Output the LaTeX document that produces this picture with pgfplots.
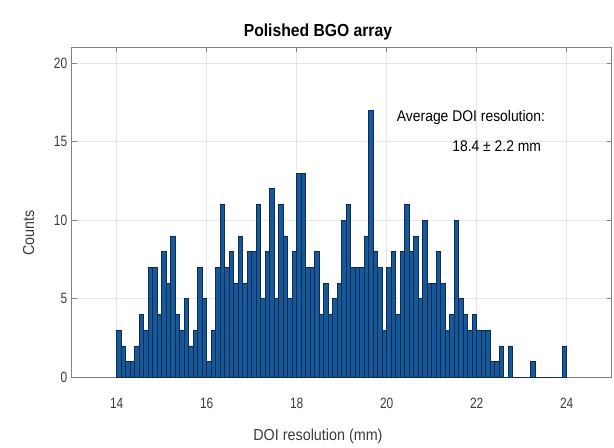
\documentclass[border=0pt]{standalone}
\usepackage{fontspec}
\setmainfont{Liberation Sans}[FakeStretch=0.9]
\newfontfamily\tickfont{Liberation Sans}[FakeStretch=0.8]
\usepackage{pgfplots}
\usepackage{pgfplotstable}
\pgfplotsset{compat=1.18}

\definecolor{barfill}{RGB}{22,88,152}
\definecolor{baredge}{RGB}{12,44,86}
\definecolor{gridgray}{RGB}{230,230,230}
\definecolor{boxgray}{RGB}{130,130,130}
\definecolor{textgray}{RGB}{60,60,60}

% DOI resolution histogram: bin centre (mm), counts (bin width 0.1 mm)
\pgfplotstableread{
x y
14.05 3
14.15 2
14.25 1
14.35 1
14.45 2
14.55 4
14.65 3
14.75 7
14.85 7
14.95 4
15.05 8
15.15 6
15.25 9
15.35 4
15.45 3
15.55 5
15.65 2
15.75 3
15.85 7
15.95 5
16.05 1
16.15 3
16.25 7
16.35 11
16.45 7
16.55 8
16.65 6
16.75 9
16.85 6
16.95 8
17.05 8
17.15 11
17.25 5
17.35 8
17.45 12
17.55 5
17.65 11
17.75 9
17.85 5
17.95 8
18.05 13
18.15 13
18.25 7
18.35 7
18.45 8
18.55 4
18.65 6
18.75 4
18.85 5
18.95 6
19.05 10
19.15 11
19.25 7
19.35 7
19.45 7
19.55 9
19.65 17
19.75 8
19.85 7
19.95 3
20.05 7
20.15 8
20.25 4
20.35 8
20.45 11
20.55 8
20.65 9
20.75 5
20.85 10
20.95 6
21.05 6
21.15 8
21.25 6
21.35 3
21.45 4
21.55 10
21.65 5
21.75 4
21.85 3
21.95 4
22.05 3
22.15 3
22.25 3
22.35 1
22.45 1
22.55 2
22.65 0
22.75 2
22.85 0
22.95 0
23.05 0
23.15 0
23.25 1
23.35 0
23.45 0
23.55 0
23.65 0
23.75 0
23.85 0
23.95 2
}\doidata

\begin{document}
\begin{tikzpicture}
\begin{axis}[
  scale only axis,
  width=540bp, height=330bp,
  xmin=13, xmax=25, ymin=0, ymax=21,
  xtick={14,16,...,24}, ytick={0,5,...,20},
  grid=major,
  major grid style={gridgray, line width=0.6bp},
  axis line style={boxgray, line width=0.6bp},
  tick style={boxgray, line width=0.6bp},
  tick align=inside, major tick length=5bp,
  /pgf/number format/assume math mode=true,
  ticklabel style={font=\tickfont\fontsize{15}{15}\selectfont, text=textgray},
  xticklabel style={yshift=-17bp},
  yticklabel style={xshift=-1bp},
  xlabel={DOI resolution (mm)},
  ylabel={Counts},
  title={Polished BGO array},
  every axis x label/.style={at={(rel axis cs:0.456,0)}, yshift=-59bp, anchor=center,
    font=\fontsize{16}{16}\selectfont, text=textgray},
  every axis y label/.style={at={(rel axis cs:0,0.438)}, xshift=-43bp, rotate=90, anchor=center,
    font=\fontsize{16}{16}\selectfont, text=textgray},
  every axis title/.style={at={(rel axis cs:0.456,1)}, yshift=15bp, anchor=center,
    font=\fontsize{17.5}{17.5}\selectfont\bfseries, text=black},
]
\addplot[ybar, bar width=0.1, bar shift=0, fill=barfill, draw=baredge, line width=0.5bp]
  table[x=x, y=y] {\doidata};
\node[anchor=west, font=\fontsize{15.5}{15.5}\selectfont, text=black] at (axis cs:20.15,16.55) {Average DOI resolution:};
\node[anchor=west, font=\fontsize{15.5}{15.5}\selectfont, text=black] at (axis cs:21.38,14.73) {18.4 ± 2.2 mm};
\end{axis}
\pgfresetboundingbox
\path[use as bounding box] (-71.7bp,-70bp) rectangle (542.3bp,377.3bp);
\end{tikzpicture}
\end{document}
